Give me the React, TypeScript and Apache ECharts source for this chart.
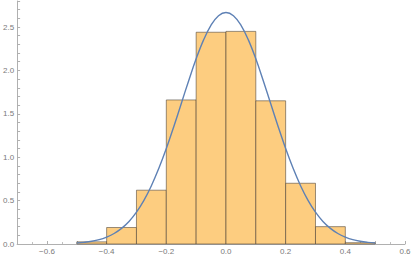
import { useEffect, useRef } from "react";
import * as echarts from "echarts";

// Histogram bins (start of each bin, width 0.1) and densities
const binStarts = [-0.5, -0.4, -0.3, -0.2, -0.1, 0.0, 0.1, 0.2, 0.3, 0.4];
const binWidth = 0.1;
const binHeights = [0.025, 0.19, 0.62, 1.66, 2.44, 2.45, 1.65, 0.7, 0.2, 0.015];

// Fitted density curve
const curveX = [
  -0.5, -0.475, -0.45, -0.425, -0.4, -0.375, -0.35, -0.325, -0.3, -0.275, -0.25,
  -0.225, -0.2, -0.175, -0.15, -0.125, -0.1, -0.075, -0.05, -0.025, 0.0,
  0.025, 0.05, 0.075, 0.1, 0.125, 0.15, 0.175, 0.2, 0.225, 0.25,
  0.275, 0.3, 0.325, 0.35, 0.375, 0.4, 0.425, 0.45, 0.475, 0.5,
];
const curveY = [
  0.011, 0.019, 0.031, 0.05, 0.08, 0.121, 0.18, 0.26, 0.367, 0.503, 0.672,
  0.872, 1.1, 1.352, 1.617, 1.882, 2.134, 2.352, 2.522, 2.63, 2.668,
  2.63, 2.522, 2.352, 2.134, 1.882, 1.617, 1.352, 1.1, 0.872, 0.672,
  0.503, 0.367, 0.26, 0.18, 0.121, 0.08, 0.05, 0.031, 0.019, 0.011,
];

const xTickLabels = [-0.6, -0.4, -0.2, 0.0, 0.2, 0.4, 0.6];
const yTickLabels = [0.0, 0.5, 1.0, 1.5, 2.0, 2.5];

const near = (v: number, list: number[]) => list.some((t) => Math.abs(t - v) < 1e-6);
const fmt = (v: number) => {
  const s = Math.abs(v).toFixed(1);
  return v < -1e-9 ? "\u2212" + s : s;
};

export default function App() {
  const ref = useRef<HTMLDivElement>(null);
  useEffect(() => {
    if (!ref.current) return;
    const chart = echarts.init(ref.current, undefined, { renderer: "svg" });
    const labelStyle = {
      color: "#7a7a7a",
      fontSize: 8,
      fontFamily: "Liberation Sans",
    };
    chart.setOption({
      animation: false,
      grid: { left: 13, right: 10, top: 1, bottom: 12, containLabel: false },
      xAxis: {
        type: "value",
        min: -0.7,
        max: 0.6,
        interval: 0.1,
        axisLine: { show: true, onZero: false, lineStyle: { color: "#b0b0b0", width: 1 } },
        axisTick: {
          show: true,
          inside: true,
          length: 3,
          lineStyle: { color: "#b0b0b0" },
        },
        minorTick: { show: true, splitNumber: 2, length: 2, lineStyle: { color: "#c0c0c0" } },
        splitLine: { show: false },
        axisLabel: {
          ...labelStyle,
          margin: 3,
          showMinLabel: false,
          formatter: (v: number) => (near(v, xTickLabels) ? fmt(v) : ""),
        },
      },
      yAxis: {
        type: "value",
        min: 0,
        max: 2.8,
        interval: 0.1,
        axisLine: { show: true, onZero: false, lineStyle: { color: "#b0b0b0", width: 1 } },
        axisTick: {
          show: true,
          inside: true,
          length: 3,
          lineStyle: { color: "#b0b0b0" },
        },
        splitLine: { show: false },
        axisLabel: {
          ...labelStyle,
          margin: 3,
          formatter: (v: number) => (near(v, yTickLabels) ? v.toFixed(1) : ""),
        },
      },
      series: [
        {
          type: "custom",
          data: binStarts.map((s, i) => [s, s + binWidth, binHeights[i]]),
          encode: { x: [0, 1], y: 2 },
          renderItem: (params: any, api: any) => {
            const p0 = api.coord([api.value(0), api.value(2)]);
            const p1 = api.coord([api.value(1), 0]);
            return {
              type: "rect",
              shape: { x: p0[0], y: p0[1], width: p1[0] - p0[0], height: p1[1] - p0[1] },
              style: {
                fill: "#FDCD80",
                stroke: "rgba(70,60,50,0.55)",
                lineWidth: 1,
              },
            };
          },
          z: 1,
        },
        {
          type: "line",
          data: curveX.map((x, i) => [x, curveY[i]]),
          showSymbol: false,
          symbol: "none",
          smooth: 0.4,
          lineStyle: { color: "#5E81B5", width: 1.4 },
          z: 3,
        },
      ],
    });
    return () => chart.dispose();
  }, []);
  return (
    <div
      ref={ref}
      style={{ position: "fixed", left: 0, top: 0, width: 415, height: 256, background: "#fff" }}
    />
  );
}
